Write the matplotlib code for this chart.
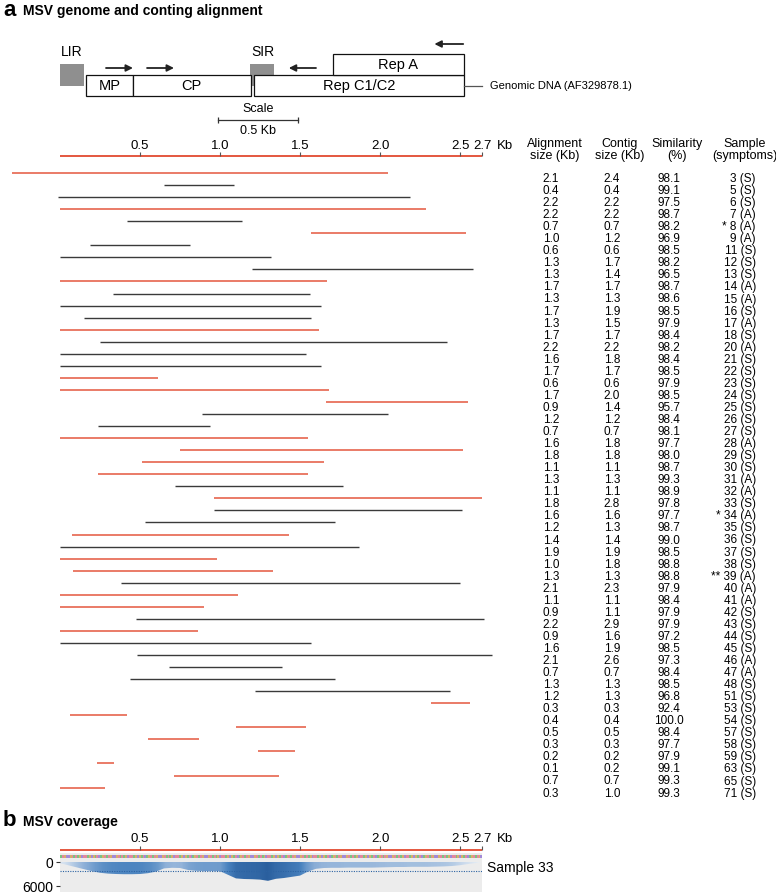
import matplotlib
matplotlib.use("Agg")
import matplotlib.pyplot as plt
from matplotlib.patches import Rectangle
from matplotlib.colors import LinearSegmentedColormap
import numpy as np

plt.rcParams["font.family"] = ["Liberation Sans", "DejaVu Sans"]

# ---- data ----
genome_len = 2.64
ruler_ticks = [0.5, 1.0, 1.5, 2.0, 2.5, genome_len]
ruler_labels = ["0.5", "1.0", "1.5", "2.0", "2.5", "2.7"]

gene_names = ["MP", "CP", "Rep C1/C2", "Rep A"]
gene_start = [0.16, 0.456, 1.21, 1.706]
gene_end = [0.456, 1.192, 2.525, 2.525]
gene_row = [0, 0, 0, 1]          # 0 = lower track, 1 = upper track
ir_names = ["LIR", "SIR"]
ir_start = [0.0, 1.19]
ir_end = [0.15, 1.34]
arrow_from = [0.2875, 0.544, 1.60, 2.52]
arrow_to = [0.456, 0.7125, 1.43, 2.34]
arrow_row = [0, 0, 0, 1]

samples = ["3 (S)", "5 (S)", "6 (S)", "7 (A)", "* 8 (A)", "9 (A)", "11 (S)", "12 (S)",
           "13 (S)", "14 (A)", "15 (A)", "16 (S)", "17 (A)", "18 (S)", "20 (A)", "21 (S)",
           "22 (S)", "23 (S)", "24 (S)", "25 (S)", "26 (S)", "27 (S)", "28 (A)", "29 (S)",
           "30 (S)", "31 (A)", "32 (A)", "33 (S)", "* 34 (A)", "35 (S)", "36 (S)", "37 (S)",
           "38 (S)", "** 39 (A)", "40 (A)", "41 (A)", "42 (S)", "43 (S)", "44 (S)", "45 (S)",
           "46 (A)", "47 (A)", "48 (S)", "51 (S)", "53 (S)", "54 (S)", "57 (S)", "58 (S)",
           "59 (S)", "63 (S)", "65 (S)", "71 (S)"]
align_size = [2.1, 0.4, 2.2, 2.2, 0.7, 1.0, 0.6, 1.3, 1.3, 1.7, 1.3, 1.7, 1.3, 1.7, 2.2, 1.6,
              1.7, 0.6, 1.7, 0.9, 1.2, 0.7, 1.6, 1.8, 1.1, 1.3, 1.1, 1.8, 1.6, 1.2, 1.4, 1.9,
              1.0, 1.3, 2.1, 1.1, 0.9, 2.2, 0.9, 1.6, 2.1, 0.7, 1.3, 1.2, 0.3, 0.4, 0.5, 0.3,
              0.2, 0.1, 0.7, 0.3]
contig_size = [2.4, 0.4, 2.2, 2.2, 0.7, 1.2, 0.6, 1.7, 1.4, 1.7, 1.3, 1.9, 1.5, 1.7, 2.2, 1.8,
               1.7, 0.6, 2.0, 1.4, 1.2, 0.7, 1.8, 1.8, 1.1, 1.3, 1.1, 2.8, 1.6, 1.3, 1.4, 1.9,
               1.8, 1.3, 2.3, 1.1, 1.1, 2.9, 1.6, 1.9, 2.6, 0.7, 1.3, 1.3, 0.3, 0.4, 0.5, 0.3,
               0.2, 0.2, 0.7, 1.0]
similarity = [98.1, 99.1, 97.5, 98.7, 98.2, 96.9, 98.5, 98.2, 96.5, 98.7, 98.6, 98.5, 97.9,
              98.4, 98.2, 98.4, 98.5, 97.9, 98.5, 95.7, 98.4, 98.1, 97.7, 98.0, 98.7, 99.3,
              98.9, 97.8, 97.7, 98.7, 99.0, 98.5, 98.8, 98.8, 97.9, 98.4, 97.9, 97.9, 97.2,
              98.5, 97.3, 98.4, 98.5, 96.8, 92.4, 100.0, 98.4, 97.7, 97.9, 99.1, 99.3, 99.3]
aln_start = [-0.30, 0.65, -0.01, 0.0, 0.42, 1.57, 0.19, 0.0, 1.20, 0.0, 0.33, 0.0, 0.15,
             0.0, 0.25, 0.0, 0.0, 0.0, 0.0, 1.66, 0.89, 0.24, 0.0, 0.75, 0.51, 0.24, 0.72,
             0.96, 0.96, 0.53, 0.075, 0.0, 0.0, 0.08, 0.38, 0.0, 0.0, 0.475, 0.0, 0.0, 0.48,
             0.68, 0.44, 1.22, 2.32, 0.06, 1.10, 0.55, 1.24, 0.23, 0.71, 0.0]
aln_end = [2.05, 1.09, 2.19, 2.29, 1.14, 2.54, 0.81, 1.32, 2.58, 1.67, 1.56, 1.63, 1.57,
           1.62, 2.42, 1.54, 1.63, 0.61, 1.68, 2.55, 2.05, 0.94, 1.55, 2.52, 1.65, 1.55,
           1.77, 2.64, 2.51, 1.72, 1.43, 1.87, 0.98, 1.33, 2.50, 1.11, 0.90, 2.65, 0.86,
           1.57, 2.70, 1.39, 1.72, 2.44, 2.56, 0.42, 1.54, 0.87, 1.47, 0.34, 1.37, 0.28]
aln_color = list("rkkrkrkkkr" "kkkrkkkrrr" "kkrrrrkrkk" "rkrrkrrkrk" "kkkk" "rrrrrrrr")

cov_pos = [0.00, 0.05, 0.10, 0.15, 0.20, 0.25, 0.30, 0.35, 0.40, 0.45, 0.50, 0.55, 0.60,
           0.65, 0.70, 0.75, 0.80, 0.85, 0.90, 0.95, 1.00, 1.05, 1.10, 1.15, 1.20, 1.25,
           1.30, 1.35, 1.40, 1.45, 1.50, 1.55, 1.60, 1.65, 1.70, 1.75, 1.80, 1.85, 1.90,
           1.95, 2.00, 2.05, 2.10, 2.15, 2.20, 2.25, 2.30, 2.35, 2.40, 2.45, 2.50, 2.55,
           2.60, 2.64]
cov_depth = [300, 800, 1300, 1800, 2300, 2700, 2900, 3000, 3050, 3050, 3000, 2800, 2400,
             1600, 1450, 1500, 2000, 2200, 2250, 2250, 2300, 3200, 4100, 4250, 4300, 4400,
             4700, 4200, 4000, 3700, 3400, 2400, 1700, 1500, 1450, 1450, 1400, 1400, 1400,
             1400, 1350, 1300, 1250, 1250, 1200, 1200, 1200, 1150, 1100, 1000, 800, 500,
             250, 0]
cov_mean = 2200
seq_motif = "ATGCCGTATAGCTTAGCGATCAGT"

RED = "#e4573f"
DARK = "#3a3a3a"

W, H = 776, 894
fig = plt.figure(figsize=(W / 100, H / 100), dpi=100)
ax = fig.add_axes([0, 0, 1, 1])
X0, PXKB = 60, 160.0
ax.set_xlim(-X0 / PXKB, (W - X0) / PXKB)
ax.set_ylim(H, 0)
ax.axis("off")


def px(x):
    return (x - X0) / PXKB


# ---- panel a title ----
ax.text(px(3), 11, "a", fontsize=16, fontweight="bold", va="center", ha="left")
ax.text(px(23), 11, "MSV genome and conting alignment", fontsize=10, fontweight="bold",
        va="center", ha="left")

# ---- genome map ----
box_y = {0: 75, 1: 54}
for n, s, e in zip(ir_names, ir_start, ir_end):
    ax.add_patch(Rectangle((s, 64), e - s, 22, facecolor="#8f8f8f", edgecolor="none", zorder=1))
    ax.text((s + e) / 2, 52, n, fontsize=10, ha="center", va="center")
for n, s, e, r in zip(gene_names, gene_start, gene_end, gene_row):
    ax.add_patch(Rectangle((s, box_y[r]), e - s, 21, facecolor="white", edgecolor="#111",
                           lw=0.9, zorder=2))
    ax.text((s + e) / 2, box_y[r] + 11, n, fontsize=10.5, ha="center", va="center", zorder=3)
arrow_y = {0: 68, 1: 44}
for a, b, r in zip(arrow_from, arrow_to, arrow_row):
    ax.annotate("", xy=(b, arrow_y[r]), xytext=(a, arrow_y[r]),
                arrowprops=dict(arrowstyle="-|>", color="#222", lw=1.3, mutation_scale=10,
                                shrinkA=0, shrinkB=0))
ax.plot([max(gene_end), genome_len], [86, 86], color="#555", lw=0.9)
ax.text(px(490), 86, "Genomic DNA (AF329878.1)", fontsize=8, ha="left", va="center")

# scale bar
ax.text(1.24, 109, "Scale", fontsize=9, ha="center", va="center")
ax.plot([0.99, 1.49], [120, 120], color="#333", lw=0.9)
ax.vlines([0.99, 1.49], 117, 123, color="#333", lw=0.9)
ax.text(1.24, 131, "0.5 Kb", fontsize=9, ha="center", va="center")


def ruler(y, label_y):
    ax.plot([0, genome_len], [y, y], color=RED, lw=1.4, solid_capstyle="butt")
    ax.vlines(ruler_ticks, y - 4, y, color="#555", lw=0.8)
    for t, l in zip(ruler_ticks, ruler_labels):
        ax.text(t, label_y, l, fontsize=9.5, ha="center", va="center")
    ax.text(genome_len + 0.09, label_y, "Kb", fontsize=9.5, ha="left", va="center")


ruler(156, 146)

# ---- table headers ----
headers = ["Alignment\nsize (Kb)", "Contig\nsize (Kb)", "Similarity\n(%)", "Sample\n(symptoms)"]
head_x = [555, 620, 677, 745]
for h, x in zip(headers, head_x):
    ax.text(px(x), 150, h, fontsize=9, ha="center", va="center", linespacing=1.1)

# ---- alignment rows ----
ROW0, ROWH = 173, 12.05
for i in range(len(samples)):
    y = ROW0 + ROWH * i
    c = RED if aln_color[i] == "r" else DARK
    ax.plot([aln_start[i], aln_end[i]], [y, y], color=c, lw=1.1 if c == RED else 1.0,
            solid_capstyle="butt")
    ty = y + 6
    ax.text(px(551), ty, f"{align_size[i]:.1f}", fontsize=8.5, ha="center", va="center")
    ax.text(px(612), ty, f"{contig_size[i]:.1f}", fontsize=8.5, ha="center", va="center")
    ax.text(px(669), ty, f"{similarity[i]:.1f}", fontsize=8.5, ha="center", va="center")
    ax.text(px(756), ty, samples[i], fontsize=8.5, ha="right", va="center")

# ---- panel b ----
ax.text(px(3), 821, "b", fontsize=16, fontweight="bold", va="center", ha="left")
ax.text(px(23), 822, "MSV coverage", fontsize=10, fontweight="bold", va="center", ha="left")
ruler(850, 839)

bx0, bx1, by0, by1 = X0, X0 + genome_len * PXKB, 853, 892
axb = fig.add_axes([bx0 / W, (H - by1) / H, (bx1 - bx0) / W, (by1 - by0) / H])
axb.set_facecolor("#ececec")
axb.set_xlim(0, genome_len)
axb.set_ylim(7500, -2250)
for s in axb.spines.values():
    s.set_visible(False)
axb.set_xticks([])
axb.set_yticks([0, 6000])
axb.set_yticklabels(["0", "6000"], fontsize=10)
axb.tick_params(axis="y", length=3, width=0.8, pad=2, color="#333")

# sequence strip
base_col = {"A": "#6fbf78", "T": "#e27d95", "G": "#d6a85e", "C": "#9a7fd6"}
step = 0.012
n_bases = int(genome_len / step)
seq = (seq_motif * (n_bases // len(seq_motif) + 1))[:n_bases]
axb.bar(np.arange(n_bases) * step, 800, width=step, bottom=-1700, align="edge",
        color=[base_col[b] for b in seq], linewidth=0, alpha=0.9)

# coverage fill, shaded by depth
cmap = LinearSegmentedColormap.from_list("cov", ["#e6edf5", "#8fb1d8", "#4a83bf", "#2a5f9e"])
poly = axb.fill_between(cov_pos, 0, cov_depth, color="none", linewidth=0)
img = axb.imshow(np.array([cov_depth]), cmap=cmap, vmin=0, vmax=max(cov_depth),
                 extent=(0, genome_len, 7500, -2250), aspect="auto", interpolation="bilinear")
img.set_clip_path(poly.get_paths()[0], transform=axb.transData)
axb.set_xlim(0, genome_len)
axb.set_ylim(7500, -2250)
axb.axhline(cov_mean, color="#2c63a3", lw=0.8, ls=(0, (1, 1.2)))
axb.text(genome_len + 0.03, 1500, "Sample 33", fontsize=10, ha="left", va="center",
         clip_on=False)

fig.savefig("out.png", dpi=100)
